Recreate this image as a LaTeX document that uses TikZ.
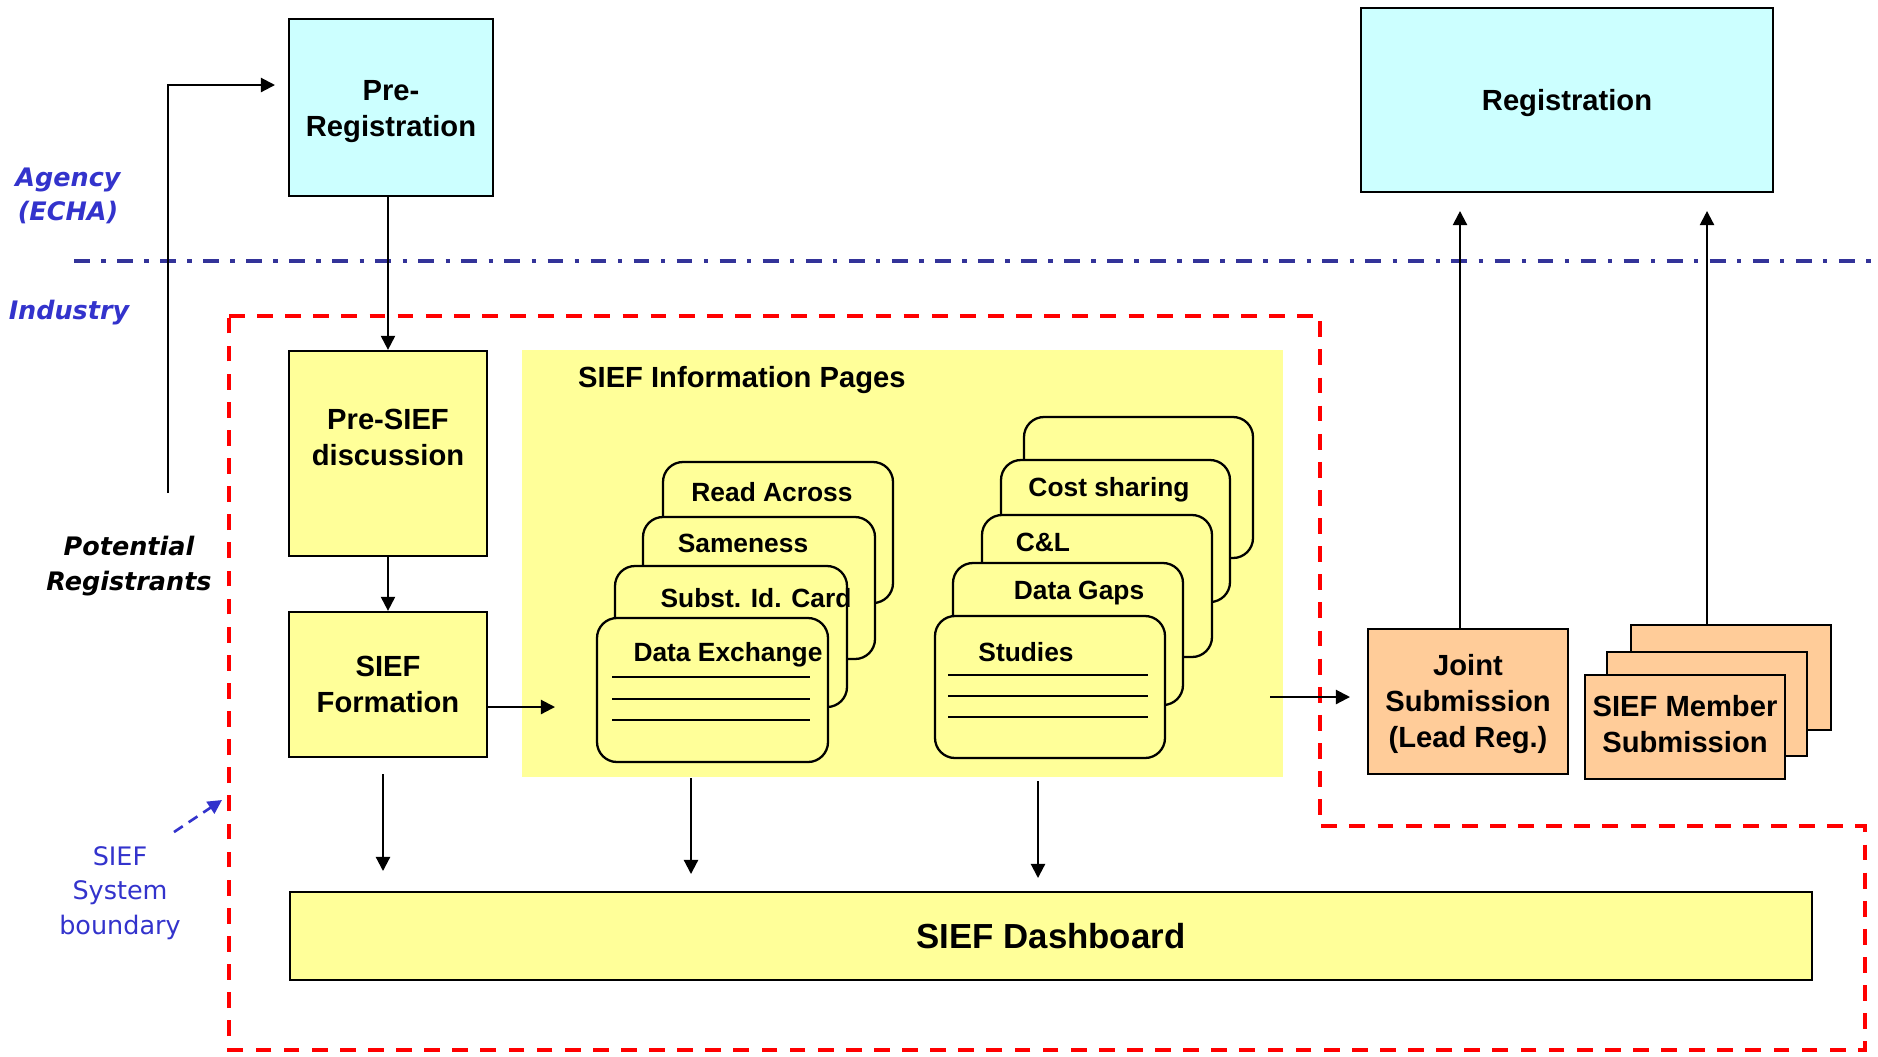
\documentclass[tikz,border=0pt]{standalone}
\usepackage{fontspec}
\setmainfont{Liberation Sans}
\newfontfamily\wide{DejaVu Sans}
\usepackage{xcolor}
\usepackage{tikz}
\usetikzlibrary{arrows.meta,fit}
\definecolor{agcyan}{HTML}{CCFFFF}
\definecolor{infoyel}{HTML}{FFFF99}
\definecolor{subor}{HTML}{FFCC99}
\definecolor{echablue}{HTML}{3333CC}
\definecolor{lineblue}{HTML}{333399}

\begin{document}
\begin{tikzpicture}[x=0.02cm,y=-0.02cm,
	box/.style={draw,line width=1.3pt,inner sep=0pt},
	btxt/.style={align=center,font=\fontsize{16.6}{20.4}\selectfont\bfseries},
	cbox/.style={box,fill=agcyan},
	ybox/.style={box,fill=infoyel},
	obox/.style={box,fill=subor},
	card/.style={draw,line width=1.3pt,fill=infoyel,rounded corners=0.4cm},
	cardtxt/.style={font=\fontsize{15}{18}\selectfont\bfseries},
	arr/.style={line width=1.2pt,-{Triangle[length=8pt,width=8pt]}},
	side/.style={font=\wide\fontsize{14.5}{19.5}\selectfont\bfseries\itshape,align=center}]
	\newcommand\rl{1.1pt}
	\useasboundingbox (0,0) rectangle (1878,1056);

	% agency / industry split
	\draw[lineblue,line width=1.8pt,dash pattern=on 9pt off 6.5pt on 2.5pt off 6.5pt] (74,261) -- (1878,261);
	\node[side,text=echablue] (agency) at (68,196) {Agency\\(ECHA)};
	\node[side,text=echablue] (industry) at (69,313) {Industry};
	\node[side] (potreg) at (129,566) {Potential\\Registrants};

	% SIEF system boundary
	\draw[red,line width=1.9pt,dash pattern=on 9pt off 7pt] (229,316) -- (1320,316) -- (1320,826) -- (1865,826) -- (1865,1050) -- (229,1050) -- cycle;
	\node[font=\wide\fontsize{14.5}{19.7}\selectfont,text=echablue,align=center] (sbnd) at (120,893) {SIEF\\System\\boundary};
	\coordinate (sba) at (174,832); \coordinate (sbb) at (222,800);
	\draw[echablue,line width=1.5pt,dash pattern=on 6pt off 4pt,-{Triangle[length=8pt,width=8pt]}] (sba) -- (sbb);

	% agency boxes
	\node[cbox,fit={(289,19) (493,196)},label={[btxt,yshift=-2.5pt]center:Pre-\\Registration}] (prereg) {};
	\node[cbox,fit={(1361,8) (1773,192)},label={[btxt,yshift=-2pt]center:Registration}] (reg) {};

	% SIEF steps
	\node[ybox,fit={(289,351) (487,556)},label={[btxt,yshift=9pt]center:Pre-SIEF\\discussion}] (presief) {};
	\node[ybox,fit={(289,612) (487,757)},label={[btxt]center:SIEF\\Formation}] (form) {};
	\node[ybox,fit={(290,892) (1812,980)},label={[font=\fontsize{19.8}{24}\selectfont\bfseries]center:SIEF Dashboard}] (dash) {};

	% information pages
	\node[fill=infoyel,inner sep=0pt,fit={(522,350) (1283,777)}] (info) {};
	\node[anchor=west,font=\fontsize{16.6}{20}\selectfont\bfseries] (infot) at (572,380) {SIEF Information Pages};

	\draw[card] (663,462) rectangle (893,603); \node[cardtxt] (ra) at (772,492) {Read Across};
	\draw[card] (643,517) rectangle (875,659); \node[cardtxt] (same) at (743,543) {Sameness};
	\draw[card] (615,566) rectangle (847,707); \node[cardtxt] (sid) at (756,598) {Subst. Id. Card};
	\draw[card] (597,618) rectangle (828,762); \node[cardtxt] (dx) at (728,655) {Data Exchange};
	\foreach \yl in {677,699,720} \draw[line width=\rl] (612,\yl) -- (810,\yl);

	\draw[card] (1024,417) rectangle (1253,558);
	\draw[card] (1001,460) rectangle (1230,602); \node[cardtxt] (cs) at (1109,490) {Cost sharing};
	\draw[card] (982,515) rectangle (1212,657); \node[cardtxt] (cl) at (1043,542) {C\&L};
	\draw[card] (953,563) rectangle (1183,705); \node[cardtxt] (gaps) at (1079,593) {Data Gaps};
	\draw[card] (935,616) rectangle (1165,758); \node[cardtxt] (stud) at (1026,652) {Studies};
	\foreach \yl in {675,696,717} \draw[line width=\rl] (948,\yl) -- (1148,\yl);

	% submissions
	\node[obox,fit={(1368,629) (1568,774)},label={[btxt,yshift=-1.5pt]center:Joint\\Submission\\(Lead Reg.)}] (joint) {};
	\node[obox,fit={(1631,625) (1831,730)}] (mem3) {};
	\node[obox,fit={(1607,652) (1807,756)}] (mem2) {};
	\node[obox,fit={(1585,675) (1785,779)},label={[btxt,yshift=1.5pt]center:SIEF Member\\Submission}] (mem1) {};

	% connectors
	\coordinate (potl) at (168,493); \coordinate (pra) at (275,85);
	\draw[arr] (potl) |- (pra);
	\draw[arr] (prereg.south -| presief.north) -- (presief.north);
	\draw[arr] (presief) -- (form);
	\coordinate (fa) at (555,707);
	\draw[arr] (form.east |- fa) -- (fa);
	\coordinate (ja) at (1270,697); \coordinate (jb) at (1350,697);
	\draw[arr] (ja) -- (jb);
	\coordinate (u1) at (1460,211); \coordinate (u2) at (1707,211);
	\draw[arr] (u1 |- joint.north) -- (u1);
	\draw[arr] (u2 |- mem3.north) -- (u2);
	\coordinate (d1a) at (383,774); \coordinate (d1b) at (383,871);
	\coordinate (d2a) at (691,778); \coordinate (d2b) at (691,874);
	\coordinate (d3a) at (1038,781); \coordinate (d3b) at (1038,878);
	\draw[arr] (d1a) -- (d1b);
	\draw[arr] (d2a) -- (d2b);
	\draw[arr] (d3a) -- (d3b);
\end{tikzpicture}
\end{document}
